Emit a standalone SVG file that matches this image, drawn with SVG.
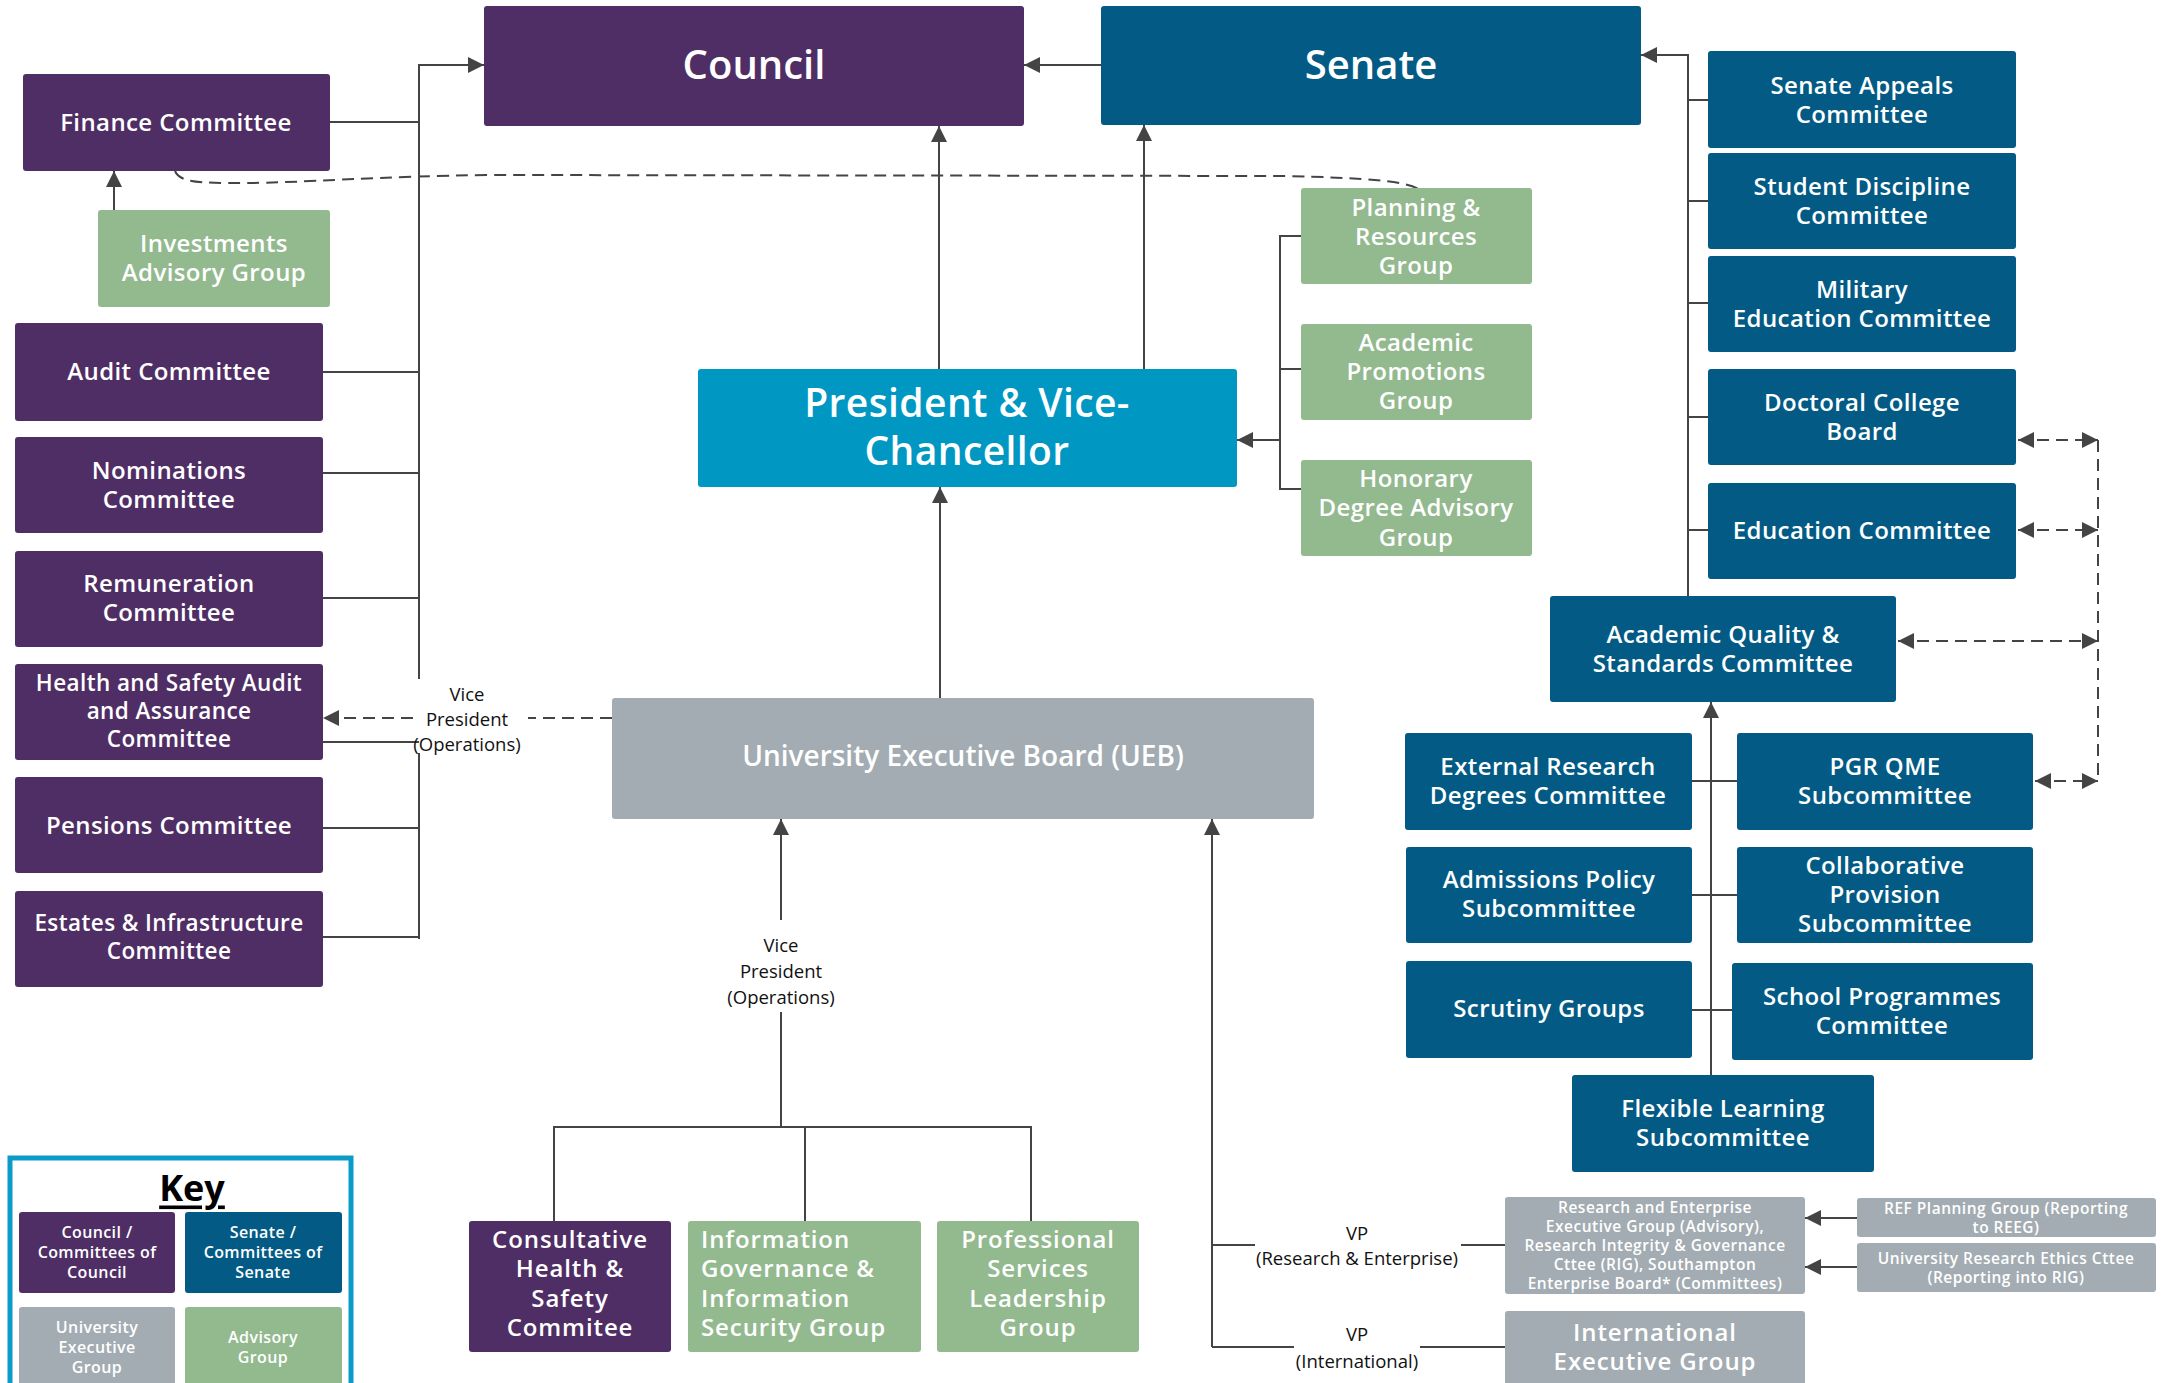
<svg xmlns="http://www.w3.org/2000/svg" width="2163" height="1383" viewBox="0 0 2163 1383">
<style>
.p{fill:#4f2e65}.s{fill:#035b85}.g{fill:#93b98f}.u{fill:#a3acb2}.c{fill:#0098c3}
text{font-family:"Open Sans","Liberation Sans",sans-serif;dominant-baseline:central;text-anchor:middle}
.t{font-weight:600;fill:#fff;font-size:24px;letter-spacing:0.4px}
.n{font-size:22.5px;letter-spacing:0.4px}
.big{font-size:40px;letter-spacing:0}
.pv{font-size:39px;letter-spacing:0.4px}
.m{font-size:24px;letter-spacing:0.9px}
.ue{font-size:28px;letter-spacing:0}
.sm{font-size:15.5px;letter-spacing:0.5px}
.k{font-size:16px;letter-spacing:0.4px}
.lbl{font-weight:400;fill:#111;font-size:18.5px}
.l{stroke:#444;stroke-width:2;fill:none}
.d{stroke-dasharray:12 7}
</style>
<defs>
<marker id="ah" viewBox="0 0 10 10" refX="10" refY="5" markerWidth="20" markerHeight="16" markerUnits="userSpaceOnUse" orient="auto-start-reverse"><path d="M0,0 L10,5 L0,10 z" fill="#444"/></marker>
</defs>
<rect width="2163" height="1383" fill="#fff"/>

<g id="connectors">
<path class="l" d="M419,679 V65 H484" marker-end="url(#ah)"/>
<path class="l" d="M419,753 V939"/>
<path class="l" d="M330,122 H419 M323,372 H419 M323,473 H419 M323,598 H419 M323,742 H419 M323,828 H419 M323,937 H419"/>
<path class="l" d="M114,210 V171" marker-end="url(#ah)"/>
<path class="l d" d="M612,718 H528"/>
<path class="l d" d="M413,718 H323" marker-end="url(#ah)"/>
<path class="l d" d="M175,171 C180,183 200,183 245,183 C300,183 380,176 491,175 L1287,176 C1360,178 1405,180 1420,190"/>
<path class="l" d="M1101,65 H1024" marker-end="url(#ah)"/>
<path class="l" d="M939,369 V126" marker-end="url(#ah)"/>
<path class="l" d="M1144,369 V125" marker-end="url(#ah)"/>
<path class="l" d="M940,698 V487" marker-end="url(#ah)"/>
<path class="l" d="M1301,236 H1280 V489 H1301 M1280,369 H1301"/>
<path class="l" d="M1280,440 H1237" marker-end="url(#ah)"/>
<path class="l" d="M1688,596 V55 H1641" marker-end="url(#ah)"/>
<path class="l" d="M1688,100 H1708 M1688,201 H1708 M1688,303 H1708 M1688,417 H1708 M1688,530 H1708"/>
<path class="l d" d="M2098,440 V781"/>
<path class="l d" d="M2018,440 H2098" marker-start="url(#ah)" marker-end="url(#ah)"/>
<path class="l d" d="M2018,530 H2098" marker-start="url(#ah)" marker-end="url(#ah)"/>
<path class="l d" d="M1898,641 H2098" marker-start="url(#ah)" marker-end="url(#ah)"/>
<path class="l d" d="M2035,781 H2098" marker-start="url(#ah)" marker-end="url(#ah)"/>
<path class="l" d="M1711,1075 V702" marker-end="url(#ah)"/>
<path class="l" d="M1692,781 H1737 M1692,895 H1737 M1692,1010 H1732"/>
<path class="l" d="M781,920 V819" marker-end="url(#ah)"/>
<path class="l" d="M781,1012 V1127 M554,1221 V1127 H1031 V1221 M805,1127 V1221"/>
<path class="l" d="M1212,1347 V819" marker-end="url(#ah)"/>
<path class="l" d="M1212,1245 H1255 M1461,1245 H1505 M1212,1347 H1294 M1420,1347 H1505"/>
<path class="l" d="M1857,1218 H1805" marker-end="url(#ah)"/>
<path class="l" d="M1857,1267 H1805" marker-end="url(#ah)"/>
<text class="lbl" x="467" y="693">Vice</text>
<text class="lbl" x="467" y="718">President</text>
<text class="lbl" x="467" y="743">(Operations)</text>
<text class="lbl" x="781" y="944">Vice</text>
<text class="lbl" x="781" y="970">President</text>
<text class="lbl" x="781" y="996">(Operations)</text>
<text class="lbl" x="1357" y="1232">VP</text>
<text class="lbl" x="1357" y="1257">(Research &amp; Enterprise)</text>
<text class="lbl" x="1357" y="1333">VP</text>
<text class="lbl" x="1357" y="1360">(International)</text>
</g>

<g id="council"><rect class="p" x="484" y="6" width="540" height="120" rx="3"/><text class="t big" x="754" y="63">Council</text></g>
<g id="senate"><rect class="s" x="1101" y="6" width="540" height="119" rx="3"/><text class="t big" x="1371" y="63">Senate</text></g>
<g id="pvc"><rect class="c" x="698" y="369" width="539" height="118" rx="3"/><text class="t pv" x="967" y="401">President &amp; Vice-</text><text class="t pv" x="967" y="449">Chancellor</text></g>

<g id="finance"><rect class="p" x="23" y="74" width="307" height="97" rx="3"/><text class="t" x="176" y="121">Finance Committee</text></g>
<g id="investments"><rect class="g" x="98" y="210" width="232" height="97" rx="3"/><text class="t" x="214" y="242">Investments</text><text class="t" x="214" y="271">Advisory Group</text></g>
<g id="audit"><rect class="p" x="15" y="323" width="308" height="98" rx="3"/><text class="t" x="169" y="370">Audit Committee</text></g>
<g id="nominations"><rect class="p" x="15" y="437" width="308" height="96" rx="3"/><text class="t" x="169" y="469">Nominations</text><text class="t" x="169" y="498">Committee</text></g>
<g id="remuneration"><rect class="p" x="15" y="551" width="308" height="96" rx="3"/><text class="t" x="169" y="582">Remuneration</text><text class="t" x="169" y="611.5">Committee</text></g>
<g id="healthsafety"><rect class="p" x="15" y="664" width="308" height="96" rx="3"/><text class="t n" x="169" y="682">Health and Safety Audit</text><text class="t n" x="169" y="710">and Assurance</text><text class="t n" x="169" y="738">Committee</text></g>
<g id="pensions"><rect class="p" x="15" y="777" width="308" height="96" rx="3"/><text class="t" x="169" y="824">Pensions Committee</text></g>
<g id="estates"><rect class="p" x="15" y="891" width="308" height="96" rx="3"/><text class="t n" x="169" y="922.5">Estates &amp; Infrastructure</text><text class="t n" x="169" y="950.5">Committee</text></g>

<g id="planning"><rect class="g" x="1301" y="188" width="231" height="96" rx="3"/><text class="t" x="1416" y="206">Planning &amp;</text><text class="t" x="1416" y="235">Resources</text><text class="t" x="1416" y="264">Group</text></g>
<g id="promotions"><rect class="g" x="1301" y="324" width="231" height="96" rx="3"/><text class="t" x="1416" y="341">Academic</text><text class="t" x="1416" y="370">Promotions</text><text class="t" x="1416" y="399">Group</text></g>
<g id="honorary"><rect class="g" x="1301" y="460" width="231" height="96" rx="3"/><text class="t" x="1416" y="477">Honorary</text><text class="t" x="1416" y="506.5">Degree Advisory</text><text class="t" x="1416" y="536">Group</text></g>

<g id="appeals"><rect class="s" x="1708" y="51" width="308" height="97" rx="3"/><text class="t" x="1862" y="84">Senate Appeals</text><text class="t" x="1862" y="113">Committee</text></g>
<g id="discipline"><rect class="s" x="1708" y="153" width="308" height="96" rx="3"/><text class="t" x="1862" y="185">Student Discipline</text><text class="t" x="1862" y="214">Committee</text></g>
<g id="military"><rect class="s" x="1708" y="256" width="308" height="96" rx="3"/><text class="t" x="1862" y="288">Military</text><text class="t" x="1862" y="317">Education Committee</text></g>
<g id="doctoral"><rect class="s" x="1708" y="369" width="308" height="96" rx="3"/><text class="t" x="1862" y="401">Doctoral College</text><text class="t" x="1862" y="430">Board</text></g>
<g id="education"><rect class="s" x="1708" y="483" width="308" height="96" rx="3"/><text class="t" x="1862" y="529">Education Committee</text></g>
<g id="aqsc"><rect class="s" x="1550" y="596" width="346" height="106" rx="3"/><text class="t" x="1723" y="633">Academic Quality &amp;</text><text class="t" x="1723" y="662">Standards Committee</text></g>
<g id="extresearch"><rect class="s" x="1405" y="733" width="287" height="97" rx="3"/><text class="t" x="1548" y="765">External Research</text><text class="t" x="1548" y="794">Degrees Committee</text></g>
<g id="pgrqme"><rect class="s" x="1737" y="733" width="296" height="97" rx="3"/><text class="t" x="1885" y="765">PGR QME</text><text class="t" x="1885" y="794">Subcommittee</text></g>
<g id="admissions"><rect class="s" x="1406" y="847" width="286" height="96" rx="3"/><text class="t" x="1549" y="878">Admissions Policy</text><text class="t" x="1549" y="907">Subcommittee</text></g>
<g id="collaborative"><rect class="s" x="1737" y="847" width="296" height="96" rx="3"/><text class="t" x="1885" y="864">Collaborative</text><text class="t" x="1885" y="893">Provision</text><text class="t" x="1885" y="922">Subcommittee</text></g>
<g id="scrutiny"><rect class="s" x="1406" y="961" width="286" height="97" rx="3"/><text class="t" x="1549" y="1007">Scrutiny Groups</text></g>
<g id="schoolprog"><rect class="s" x="1732" y="963" width="301" height="97" rx="3"/><text class="t" x="1882" y="995">School Programmes</text><text class="t" x="1882" y="1024">Committee</text></g>
<g id="flexible"><rect class="s" x="1572" y="1075" width="302" height="97" rx="3"/><text class="t" x="1723" y="1107">Flexible Learning</text><text class="t" x="1723" y="1136">Subcommittee</text></g>

<g id="ueb"><rect class="u" x="612" y="698" width="702" height="121" rx="3"/><text class="t ue" x="963" y="755">University Executive Board (UEB)</text></g>
<g id="consultative"><rect class="p" x="469" y="1221" width="202" height="131" rx="3"/><text class="t m" x="570" y="1238">Consultative</text><text class="t m" x="570" y="1267.5">Health &amp;</text><text class="t m" x="570" y="1297">Safety</text><text class="t m" x="570" y="1326.5">Commitee</text></g>
<g id="infogov"><rect class="g" x="688" y="1221" width="233" height="131" rx="3"/><text class="t m" x="701" y="1238" style="text-anchor:start">Information</text><text class="t m" x="701" y="1267.5" style="text-anchor:start">Governance &amp;</text><text class="t m" x="701" y="1297" style="text-anchor:start">Information</text><text class="t m" x="701" y="1326.5" style="text-anchor:start">Security Group</text></g>
<g id="professional"><rect class="g" x="937" y="1221" width="202" height="131" rx="3"/><text class="t m" x="1038" y="1238">Professional</text><text class="t m" x="1038" y="1267.5">Services</text><text class="t m" x="1038" y="1297">Leadership</text><text class="t m" x="1038" y="1326.5">Group</text></g>

<g id="reeg"><rect class="u" x="1505" y="1197" width="300" height="97" rx="3"/><text class="t sm" x="1655" y="1207">Research and Enterprise</text><text class="t sm" x="1655" y="1226">Executive Group (Advisory),</text><text class="t sm" x="1655" y="1245">Research Integrity &amp; Governance</text><text class="t sm" x="1655" y="1264">Cttee (RIG), Southampton</text><text class="t sm" x="1655" y="1283">Enterprise Board* (Committees)</text></g>
<g id="refplanning"><rect class="u" x="1857" y="1198" width="299" height="39" rx="3"/><text class="t sm" x="2006" y="1208">REF Planning Group (Reporting</text><text class="t sm" x="2006" y="1227">to REEG)</text></g>
<g id="ethics"><rect class="u" x="1857" y="1243" width="299" height="49" rx="3"/><text class="t sm" x="2006" y="1258">University Research Ethics Cttee</text><text class="t sm" x="2006" y="1277">(Reporting into RIG)</text></g>
<g id="international"><rect class="u" x="1505" y="1311" width="300" height="90" rx="3"/><text class="t m" x="1655" y="1331">International</text><text class="t m" x="1655" y="1360.5">Executive Group</text></g>

<g id="key">
<rect x="10" y="1158" width="341" height="250" fill="#fff" stroke="#0b9bc8" stroke-width="5"/>
<text x="192" y="1187" style="font-weight:700;font-size:36px;fill:#000;text-decoration:underline">Key</text>
<rect class="p" x="19" y="1212" width="156" height="81" rx="3"/>
<text class="t k" x="97" y="1232">Council /</text><text class="t k" x="97" y="1252">Committees of</text><text class="t k" x="97" y="1272">Council</text>
<rect class="s" x="185" y="1212" width="157" height="81" rx="3"/>
<text class="t k" x="263" y="1232">Senate /</text><text class="t k" x="263" y="1252">Committees of</text><text class="t k" x="263" y="1272">Senate</text>
<rect class="u" x="19" y="1307" width="156" height="90" rx="3"/>
<text class="t k" x="97" y="1327">University</text><text class="t k" x="97" y="1347">Executive</text><text class="t k" x="97" y="1367">Group</text>
<rect class="g" x="185" y="1307" width="157" height="90" rx="3"/>
<text class="t k" x="263" y="1337">Advisory</text><text class="t k" x="263" y="1357">Group</text>
</g>
</svg>
